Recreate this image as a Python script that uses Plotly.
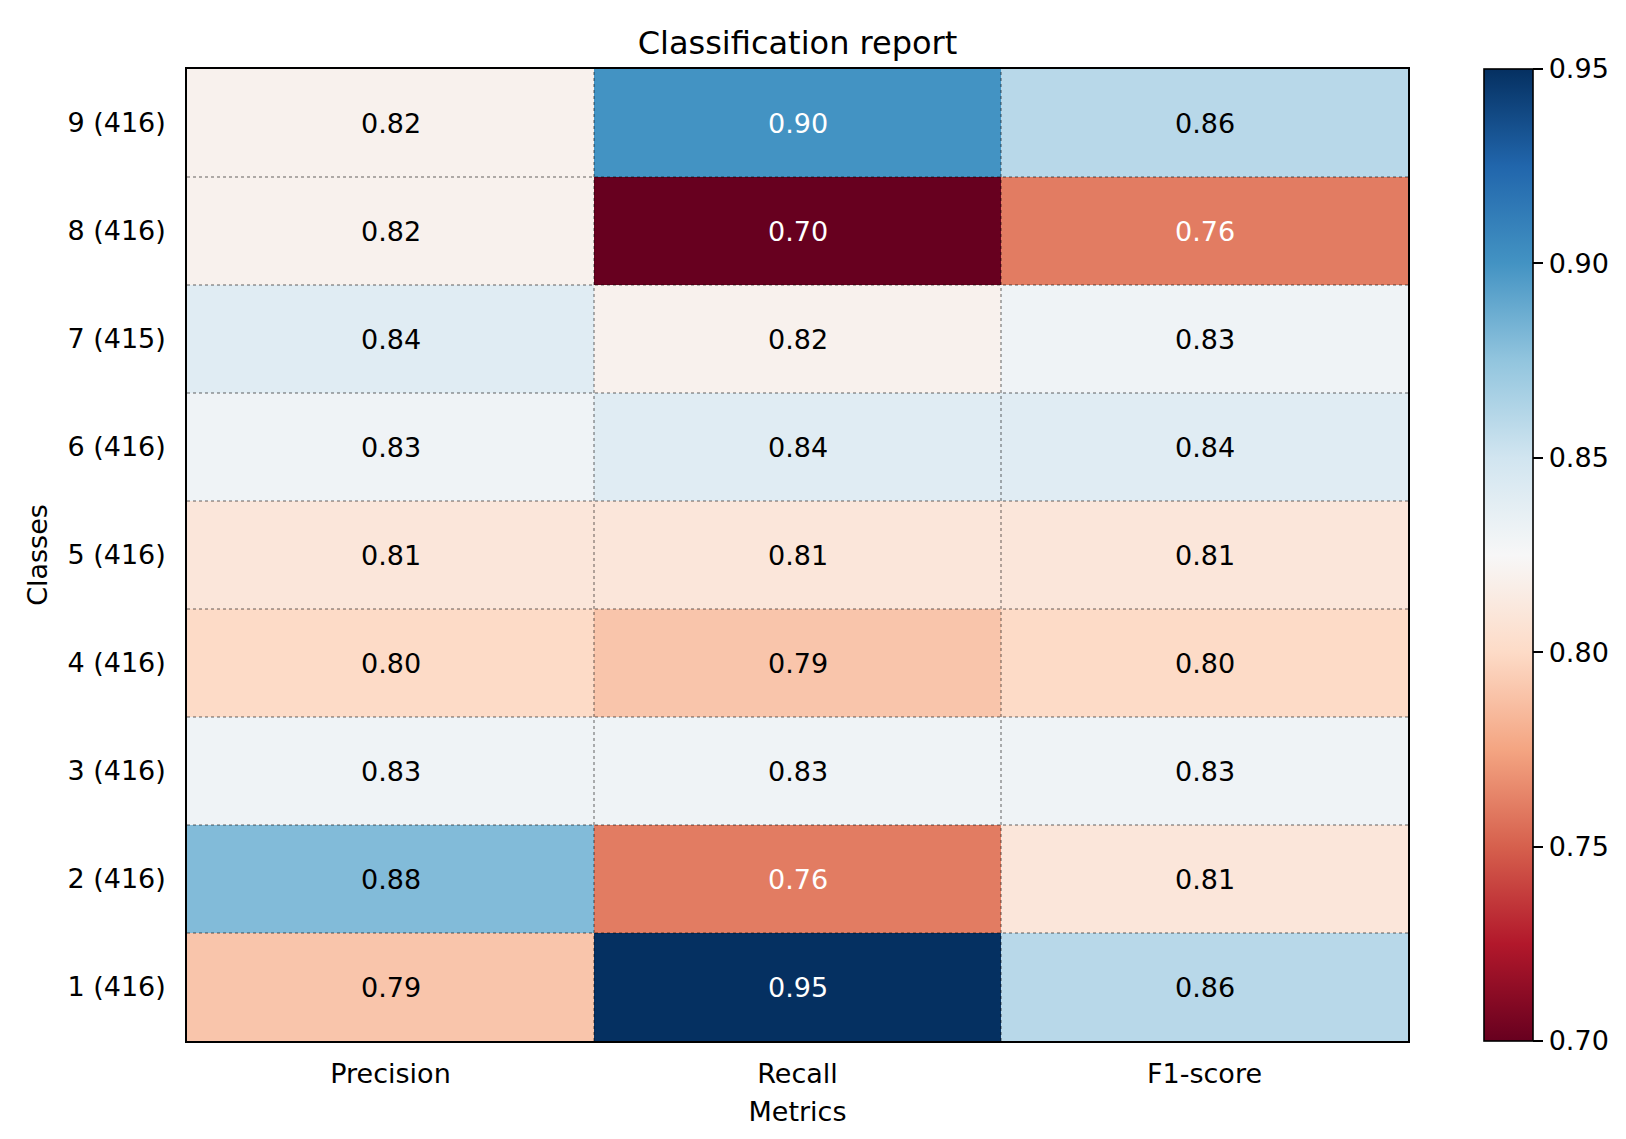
import plotly.graph_objects as go

# classification report values
metrics = ["Precision", "Recall", "F1-score"]
class_ids = ["1", "2", "3", "4", "5", "6", "7", "8", "9"]
supports = [416, 416, 416, 416, 416, 416, 415, 416, 416]
precision = [0.79, 0.88, 0.83, 0.80, 0.81, 0.83, 0.84, 0.82, 0.82]
recall = [0.95, 0.76, 0.83, 0.79, 0.81, 0.84, 0.82, 0.70, 0.90]
f1_score = [0.86, 0.81, 0.83, 0.80, 0.81, 0.84, 0.83, 0.76, 0.86]
cbar_ticks = [0.70, 0.75, 0.80, 0.85, 0.90, 0.95]

# matplotlib RdBu (colorbrewer 11)
rdbu = ['rgb(103,0,31)', 'rgb(178,24,43)', 'rgb(214,96,77)', 'rgb(244,165,130)',
        'rgb(253,219,199)', 'rgb(247,247,247)', 'rgb(209,229,240)', 'rgb(146,197,222)',
        'rgb(67,147,195)', 'rgb(33,102,172)', 'rgb(5,48,97)']
colorscale = [[i / (len(rdbu) - 1), c] for i, c in enumerate(rdbu)]

row_labels = [f"{c} ({s})" for c, s in zip(class_ids, supports)]
z = [[p, r, f] for p, r, f in zip(precision, recall, f1_score)]
zmin = min(min(row) for row in z)
zmax = max(max(row) for row in z)

font = "DejaVu Sans"

fig = go.Figure(go.Heatmap(
    z=z, x=metrics, y=row_labels,
    colorscale=colorscale, zmin=zmin, zmax=zmax,
    hoverinfo="skip",
    colorbar=dict(
        x=1.062, xanchor="left", xpad=0, ypad=0,
        y=0.5, yanchor="middle", len=1, lenmode="fraction",
        thickness=49, outlinewidth=1.6, outlinecolor="black",
        ticks="outside", ticklen=10, tickwidth=1.6, tickcolor="black",
        tickvals=cbar_ticks, ticktext=[f"{t:.2f}" for t in cbar_ticks],
        tickfont=dict(family=font, size=27, color="black"),
    ),
))

# cell values as text
annotations = []
for i, lab in enumerate(row_labels):
    for j, m in enumerate(metrics):
        v = z[i][j]
        # light text on dark cells
        col = "white" if (v >= 0.89 or v <= 0.77) else "black"
        annotations.append(dict(x=m, y=lab, text=f"{v:.2f}", showarrow=False,
                                font=dict(family=font, size=27, color=col)))

# dotted cell borders
shapes = []
for j in range(1, len(metrics)):
    shapes.append(dict(type="line", xref="x", yref="paper", x0=j - 0.5, x1=j - 0.5, y0=0, y1=1,
                       line=dict(color="black", width=0.6, dash="dot")))
for i in range(1, len(row_labels)):
    shapes.append(dict(type="line", xref="paper", yref="y", x0=0, x1=1, y0=i - 0.5, y1=i - 0.5,
                       line=dict(color="black", width=0.6, dash="dot")))

fig.update_layout(
    width=1626, height=1139,
    margin=dict(l=179, r=226, t=61, b=106),
    paper_bgcolor="white", plot_bgcolor="white",
    font=dict(family=font, size=27, color="black"),
    title=dict(text="Classification report", x=(179 + 1400) / 2 / 1626, xanchor="center",
               y=1 - 35 / 1139, yanchor="middle", yref="container",
               font=dict(family=font, size=32, color="black")),
    annotations=annotations,
    shapes=shapes,
)
fig.update_xaxes(
    title=dict(text="Metrics", font=dict(size=27), standoff=14),
    showline=True, mirror=True, linecolor="black", linewidth=1.6,
    showgrid=False, zeroline=False, ticks="", ticklabelstandoff=8,
    tickfont=dict(size=27),
)
fig.update_yaxes(
    title=dict(text="Classes", font=dict(size=27), standoff=12),
    showline=True, mirror=True, linecolor="black", linewidth=1.6,
    showgrid=False, zeroline=False, ticks="", ticklabelstandoff=14,
    tickfont=dict(size=27),
)

fig.write_html("out.html")
